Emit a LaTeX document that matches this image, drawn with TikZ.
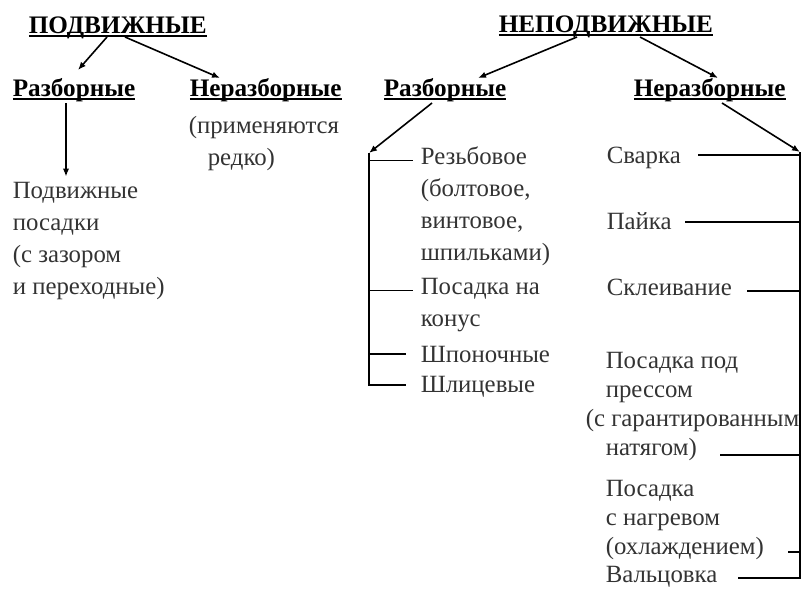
\documentclass[tikz,border=0pt]{standalone}
\usepackage{fontspec}
\setmainfont{Liberation Serif}
\usetikzlibrary{arrows.meta}
\newcommand{\hd}[1]{{\bfseries\setbox0=\hbox{#1}\rlap{\vrule width\wd0 height -0.9pt depth 1.8pt}\box0}}

\begin{document}
\begin{tikzpicture}[x=0.5pt, y=-0.5pt, thick, >={Latex[length=4pt,width=3.2pt]},
        txt/.style = {inner sep=0, anchor=base west, font=\fontsize{12.4}{16}\selectfont, text=black!80},
        blk/.style = {txt, anchor=north west, align=left},
        tight/.style = {blk, font=\fontsize{12.4}{14.5}\selectfont},
        head/.style = {txt, text=black, font=\fontsize{12.6}{16}\selectfont}]
        \useasboundingbox (0,0) rectangle (801,595);
        \node[head] (P) at (28,33) {\hd{ПОДВИЖНЫЕ}};
        \node[head] (PR) at (12,96) {\hd{Разборные}};
        \node[head] (PN) at (189,96) {\hd{Неразборные}};
        \node[blk] (PT) at (188,110.6) {\strut(применяются\\\hspace*{9.5pt}редко)};
        \node[blk] (PS) at (12,175.6) {\strut Подвижные\\посадки\\(с зазором\\и переходные)};
        \node[head] (N) at (498,32) {\hd{НЕПОДВИЖНЫЕ}};
        \node[head] (NR) at (383,96) {\hd{Разборные}};
        \node[head] (NN) at (633,96) {\hd{Неразборные}};
        \node[blk] (R1) at (420,141.6) {\strut Резьбовое\\(болтовое,\\винтовое,\\шпильками)};
        \node[blk] (R2) at (420,271.6) {\strut Посадка на\\конус};
        \node[txt] (R3) at (420,362) {Шпоночные};
        \node[txt] (R4) at (420,392) {Шлицевые};
        \node[txt] (S1) at (606,163) {Сварка};
        \node[txt] (S2) at (606,229) {Пайка};
        \node[txt] (S3) at (606,295) {Склеивание};
        \node[tight] (S4) at (585,347.7) {\strut\hspace*{10pt}Посадка под\\\hspace*{10pt}прессом\\(с гарантированным\\\hspace*{10pt}натягом)};
        \node[tight] (S5) at (605,475.7) {\strut Посадка\\с нагревом\\(охлаждением)};
        \node[txt] (S6) at (605,582) {Вальцовка};
        \coordinate (L) at (369,153);
        \coordinate (R) at (800,152);
        \draw[->] ([shift={(79,4)}]P.base west) -- ([shift={(66,-26)}]PR.base west);
        \draw[->] ([shift={(97,4)}]P.base west) -- ([shift={(31,-18)}]PN.base west);
        \draw[->] ([shift={(54,7)}]PR.base west) -- ([shift={(54,1)}]PS.north west);
        \draw[->] ([shift={(79,5)}]N.base west) -- ([shift={(95,-18)}]NR.base west);
        \draw[->] ([shift={(142,5)}]N.base west) -- ([shift={(85,-18)}]NN.base west);
        \draw[->] ([shift={(49,7)}]NR.base west) -- (L);
        \draw[->] ([shift={(89,7)}]NN.base west) -- (R);
        \draw (L) |- ([shift={(-14,-7)}]R4.base west);
        \draw (L) |- ([shift={(-7,19)}]R1.north west);
        \draw (L) |- ([shift={(-7,19)}]R2.north west);
        \draw (L) |- ([shift={(-14,-8)}]R3.base west);
        \draw ([shift={(133,-4)}]S6.base west) -| (R);
        \draw ([shift={(92,-8)}]S1.base west) -| (R);
        \draw ([shift={(79,-7)}]S2.base west) -| (R);
        \draw ([shift={(141,-4)}]S3.base west) -| (R);
        \draw ([shift={(135,107.3)}]S4.north west) -| (R);
        \draw ([shift={(183,76)}]S5.north west) -| (R);
\end{tikzpicture}
\end{document}
